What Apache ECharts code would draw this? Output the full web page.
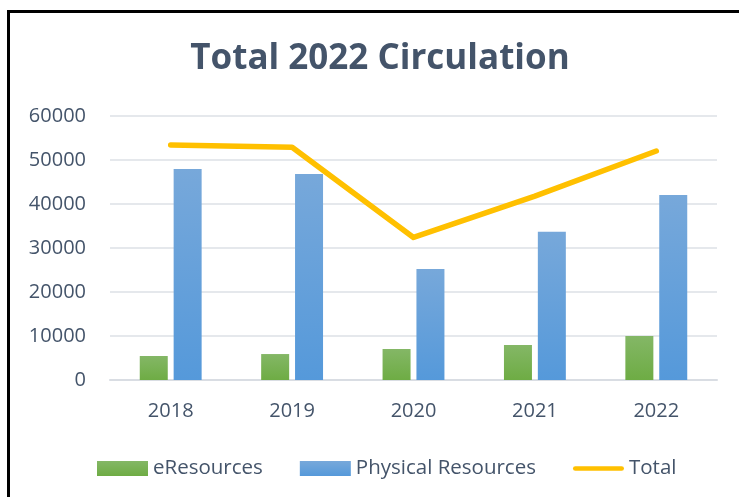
<!DOCTYPE html>
<html>
<head>
<meta charset="utf-8">
<script src="https://cdn.jsdelivr.net/npm/echarts@6/dist/echarts.min.js"></script>
<style>
  html, body { margin: 0; padding: 0; background: #fff; }
  #wrap { position: relative; width: 739px; height: 497px; overflow: hidden; }
  #frame { position: absolute; left: 7px; top: 10px; width: 740px; height: 500px;
           border-left: 3px solid #000; border-top: 3px solid #000; box-sizing: border-box; }
  #chart { position: absolute; left: 0; top: 0; width: 739px; height: 497px; }
</style>
</head>
<body>
<div id="wrap">
  <div id="frame"></div>
  <div id="chart"></div>
</div>
<script>
var years = ['2018', '2019', '2020', '2021', '2022'];
var eResources = [5450, 5900, 7050, 7950, 10000];
var physical = [47950, 46800, 25200, 33700, 42050];
var total = [53400, 52900, 32400, 41800, 52050];

var txt = '#44546A';
var font = "'Open Sans', sans-serif";

var myChart = echarts.init(document.getElementById('chart'));

var option = {
  animation: false,
  title: {
    text: 'Total 2022 Circulation',
    left: 375,
    textAlign: 'center',
    top: 37,
    textStyle: {
      color: txt,
      fontFamily: font,
      fontWeight: 'bold',
      fontSize: 35
    }
  },
  legend: {
    left: 92,
    top: 453,
    itemWidth: 51,
    itemHeight: 15,
    itemGap: 37,
    textStyle: { color: txt, fontFamily: font, fontSize: 20.5 },
    data: [
      { name: 'eResources', icon: 'rect' },
      { name: 'Physical Resources', icon: 'rect' },
      { name: 'Total', icon: 'path://M2.5,0 L52.5,0 A2.5,2.5 0 0 1 52.5,5 L2.5,5 A2.5,2.5 0 0 1 2.5,0 Z' }
    ]
  },
  grid: { left: 110, right: 22, top: 116, bottom: 117, containLabel: false },
  xAxis: {
    type: 'category',
    data: years,
    axisLine: { lineStyle: { color: '#D9DDE3', width: 2 } },
    axisTick: { show: false },
    axisLabel: { color: txt, fontFamily: font, fontSize: 20, margin: 21 }
  },
  yAxis: {
    type: 'value',
    min: 0,
    max: 60000,
    interval: 10000,
    axisLine: { show: false },
    axisTick: { show: false },
    axisLabel: {
      color: txt, fontFamily: font, fontSize: 20, margin: 24,
      formatter: function (v) { return String(v); }
    },
    splitLine: { lineStyle: { color: '#DCE0E6', width: 1.5 } }
  },
  series: [
    {
      name: 'eResources',
      type: 'bar',
      data: eResources,
      barWidth: 28,
      barGap: '21%',
      itemStyle: {
        color: new echarts.graphic.LinearGradient(0, 0, 0, 1, [
          { offset: 0, color: '#84B766' },
          { offset: 1, color: '#6EAC44' }
        ])
      }
    },
    {
      name: 'Physical Resources',
      type: 'bar',
      data: physical,
      barWidth: 28,
      barGap: '21%',
      itemStyle: {
        color: new echarts.graphic.LinearGradient(0, 0, 0, 1, [
          { offset: 0, color: '#77A8DA' },
          { offset: 1, color: '#5599DA' }
        ])
      }
    },
    {
      name: 'Total',
      type: 'line',
      data: total,
      showSymbol: false,
      symbol: 'none',
      itemStyle: { color: '#FFC000' },
      lineStyle: { color: '#FFC000', width: 5.5, cap: 'round', join: 'round' },
      z: 3
    }
  ]
};

myChart.setOption(option);
</script>
</body>
</html>
